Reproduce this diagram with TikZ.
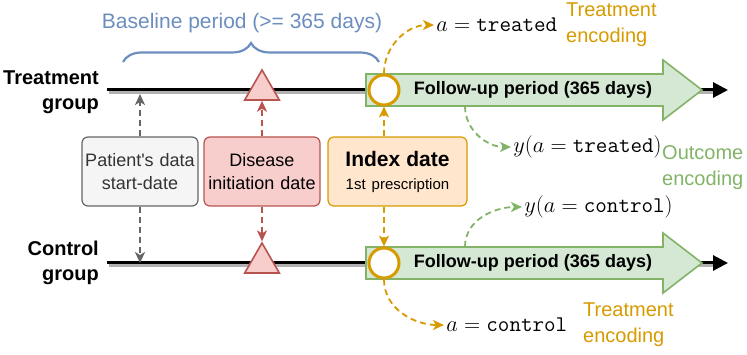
\documentclass[tikz,border=0pt]{standalone}
\usepackage{fontspec}
\setmainfont{Liberation Sans}
\usetikzlibrary{shapes.geometric,decorations.pathreplacing,arrows.meta}
\definecolor{grayline}{HTML}{666666}
\definecolor{grayfill}{HTML}{F5F5F5}
\definecolor{graytext}{HTML}{333333}
\definecolor{redline}{HTML}{B85450}
\definecolor{redfill}{HTML}{F8CECC}
\definecolor{orangeline}{HTML}{D79B00}
\definecolor{orangefill}{HTML}{FFE6CC}
\definecolor{greenline}{HTML}{82B366}
\definecolor{greenfill}{HTML}{D5E8D4}
\definecolor{blueline}{HTML}{6C8EBF}
\begin{document}
\begin{tikzpicture}[x=1pt,y=1pt,
  box/.style={draw,rounded corners=6pt,line width=1.2pt,minimum height=69pt,align=center,inner sep=2pt,font=\fontsize{18}{23}\selectfont},
  link/.style={dash pattern=on 6pt off 4pt,line width=1.8pt,-{Stealth[length=11pt,width=10pt,inset=3pt]}},
  grp/.style={font=\fontsize{20}{25}\selectfont\bfseries,align=right,anchor=east,inner sep=0pt},
  enc/.style={font=\fontsize{20}{26}\selectfont,align=left,anchor=west,inner sep=0pt},
  mathlbl/.style={font=\fontsize{20.74}{25}\selectfont,scale=1.08,anchor=west,inner sep=2pt},
  tri/.style={regular polygon,regular polygon sides=3,minimum size=40pt,inner sep=0pt,draw=redline,fill=redfill,line width=1.6pt},
  idx/.style={circle,minimum size=30pt,inner sep=0pt,draw=orangeline,fill=white,line width=3pt},
  fu/.style={draw=greenline,fill=greenfill,line width=1.6pt},
  fulabel/.style={font=\fontsize{18}{22}\selectfont\bfseries,minimum height=32pt,inner sep=0pt},
  timeline/.style={line width=3pt,-{Triangle[length=15pt,width=15pt]}}]
  \useasboundingbox (0,0) rectangle (747,355);
  \node[grp] (tg) at (99,262.5) {Treatment\\group};
  \node[grp] (cg) at (99,92.5) {Control\\group};
  \node[font=\fontsize{21}{25}\selectfont,text=blueline] (bl) at (242,332) {Baseline period (>= 365 days)};
  \draw[blueline,line width=2.2pt,decorate,decoration={brace,amplitude=19pt}] (123,293) -- (379,293);
  \coordinate (t0) at (107,265); \coordinate (t1) at (728,265);
  \coordinate (c0) at (107,92); \coordinate (c1) at (728,92);
  \draw[line width=3pt,black!30] ([shift={(1.5,-2.5)}]t0) -- ([shift={(-8,-2.5)}]t1);
  \draw[line width=3pt,black!30] ([shift={(1.5,-2.5)}]c0) -- ([shift={(-8,-2.5)}]c1);
  \draw[timeline] (t0) -- (t1); \draw[timeline] (c0) -- (c1);
  \draw[fu] (366,249) -- (663,249) -- (663,235) -- (702,265) -- (663,295) -- (663,281) -- (366,281) -- cycle;
  \draw[fu] (366,76) -- (663,76) -- (663,62) -- (702,92) -- (663,122) -- (663,108) -- (366,108) -- cycle;
  \node[fulabel] (fu1) at (533,265) {Follow-up period (365 days)};
  \node[fulabel] (fu2) at (533,92) {Follow-up period (365 days)};
  \node[tri] (tr1) at (262,265) {}; \node[tri] (tr2) at (262,92) {};
  \node[idx] (i1) at (384,265) {}; \node[idx] (i2) at (384,92) {};
  \node[box,draw=grayline,fill=grayfill,text=graytext,text width=112pt] (pat) at (140,183.5) {Patient\textquotesingle s data\\start-date};
  \node[box,draw=redline,fill=redfill,text width=112pt] (dis) at (262,183.5) {Disease\\initiation date};
  \node[box,draw=orangeline,fill=orangefill,text width=135pt] (ind) at (397.5,183.5) {{\fontsize{21}{23}\selectfont\bfseries Index date}\\{\fontsize{15}{18}\selectfont 1st prescription}};
  \node[mathlbl] (at) at (434,330) {$a=\texttt{treated}$};
  \node[mathlbl] (yt) at (511,208) {$y(a=\texttt{treated})$};
  \node[mathlbl] (yc) at (522,148) {$y(a=\texttt{control})$};
  \node[mathlbl] (ac) at (444,30) {$a=\texttt{control}$};
  \node[enc,text=orangeline] (te1) at (566,330) {Treatment\\encoding};
  \node[enc,text=greenline] (oe) at (662,187) {Outcome\\encoding};
  \node[enc,text=orangeline] (te2) at (583,30) {Treatment\\encoding};
  \draw[link,grayline] (pat.north) -- ([yshift=-4pt]pat.north |- t0);
  \draw[link,grayline] (pat.south) -- (pat.south |- c0);
  \draw[link,redline] (dis.north) -- (tr1.south);
  \draw[link,redline] (dis.south) -- (tr2.north);
  \draw[link,orangeline] (ind.north -| i1) -- (i1.south);
  \draw[link,orangeline] (ind.south -| i2) -- (i2.north);
  \draw[link,orangeline] (i1.north) to[out=90,in=180] (at.west);
  \draw[link,orangeline] (i2.south) to[out=-90,in=180] (ac.west);
  \draw[link,greenline] ([xshift=-68pt]fu1.south) to[out=-90,in=180] (yt.west);
  \draw[link,greenline] ([xshift=-68pt]fu2.north) to[out=90,in=180] (yc.west);
\end{tikzpicture}
\end{document}
